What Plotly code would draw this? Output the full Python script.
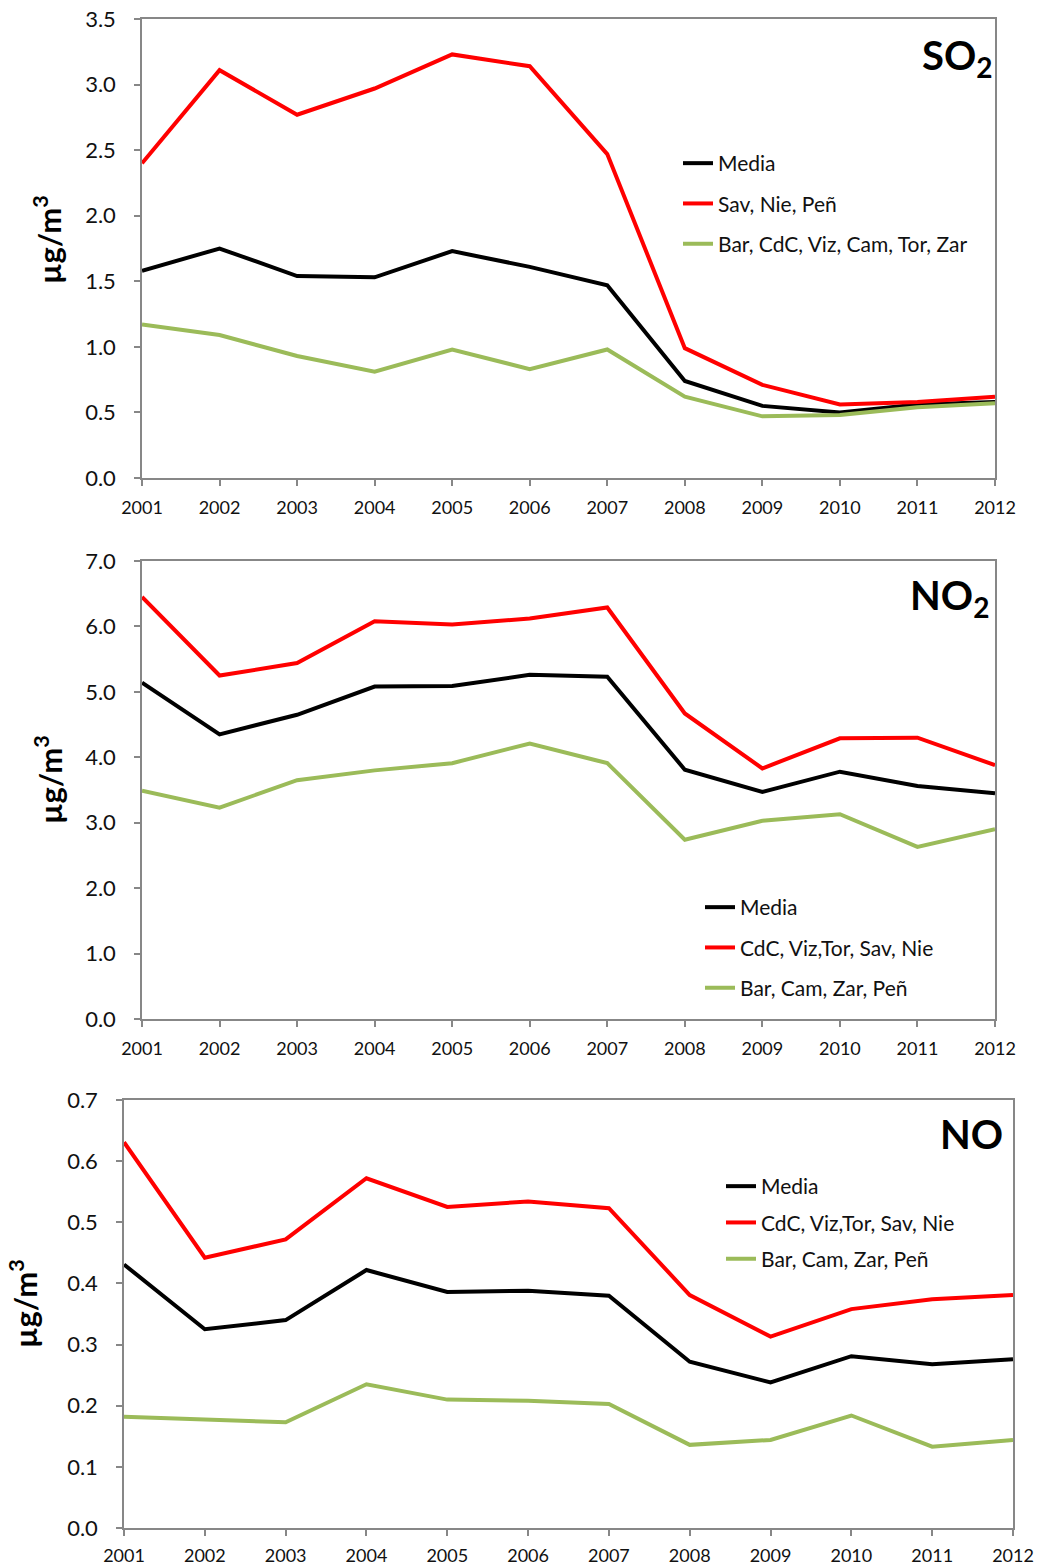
import plotly.graph_objects as go

years = list(range(2001, 2013))

# SO2
so2_media = [1.58, 1.75, 1.54, 1.53, 1.73, 1.61, 1.47, 0.74, 0.55, 0.50, 0.56, 0.58]
so2_high = [2.40, 3.11, 2.77, 2.97, 3.23, 3.14, 2.47, 0.99, 0.71, 0.56, 0.58, 0.62]
so2_low = [1.17, 1.09, 0.93, 0.81, 0.98, 0.83, 0.98, 0.62, 0.47, 0.48, 0.54, 0.57]
so2_names = ["Media", "Sav, Nie, Peñ", "Bar, CdC, Viz, Cam, Tor, Zar"]

# NO2
no2_media = [5.14, 4.35, 4.65, 5.08, 5.09, 5.26, 5.23, 3.81, 3.47, 3.78, 3.56, 3.45]
no2_high = [6.45, 5.25, 5.44, 6.08, 6.03, 6.12, 6.29, 4.67, 3.83, 4.29, 4.30, 3.88]
no2_low = [3.49, 3.23, 3.65, 3.80, 3.91, 4.21, 3.91, 2.74, 3.03, 3.13, 2.63, 2.90]
no2_names = ["Media", "CdC, Viz,Tor, Sav, Nie", "Bar, Cam, Zar, Peñ"]

# NO
no_media = [0.431, 0.325, 0.340, 0.422, 0.386, 0.388, 0.380, 0.272, 0.238, 0.281, 0.268, 0.276]
no_high = [0.631, 0.442, 0.472, 0.572, 0.525, 0.534, 0.523, 0.381, 0.313, 0.358, 0.374, 0.381]
no_low = [0.182, 0.177, 0.173, 0.235, 0.210, 0.208, 0.203, 0.136, 0.144, 0.184, 0.133, 0.144]
no_names = ["Media", "CdC, Viz,Tor, Sav, Nie", "Bar, Cam, Zar, Peñ"]

W, H = 1038, 1566
FONT = "Lato, 'Open Sans', sans-serif"
AXIS_GREY = "#878787"
COLORS = ["#000000", "#ff0000", "#9bbb59"]


def fx(p):
    # window pixel -> paper x
    return p / W


def fy(p):
    # window pixel -> paper y
    return 1 - p / H


panels = [
    dict(series=[so2_media, so2_high, so2_low], names=so2_names,
         box=(142, 995, 19, 478), ymax=3.5, dtick=0.5,
         title="SO<sub>2</sub>", title_xy=(995, 29),
         legend_xy=(678, 143), legend_gap=10, ylab=(48, 240), xstandoff=7),
    dict(series=[no2_media, no2_high, no2_low], names=no2_names,
         box=(142, 995, 561, 1019), ymax=7.0, dtick=1.0,
         title="NO<sub>2</sub>", title_xy=(991, 569),
         legend_xy=(700, 887), legend_gap=10, ylab=(48, 780), xstandoff=7),
    dict(series=[no_media, no_high, no_low], names=no_names,
         box=(124, 1013, 1100, 1528), ymax=0.7, dtick=0.1,
         title="NO", title_xy=(1005, 1108),
         legend_xy=(721, 1166), legend_gap=6, ylab=(23, 1304), xstandoff=5),
]

fig = go.Figure()
annotations = []

for i, p in enumerate(panels, start=1):
    sfx = "" if i == 1 else str(i)
    leg = "legend" if i == 1 else f"legend{i}"
    for vals, name, col in zip(p["series"], p["names"], COLORS):
        fig.add_trace(go.Scatter(
            x=years, y=vals, name=name, mode="lines",
            line=dict(color=col, width=4),
            xaxis="x" + sfx, yaxis="y" + sfx,
            legend=leg, legendgroup=f"{i}-{name}",
        ))

    x0, x1, y0, y1 = p["box"]
    axis_common = dict(
        showline=True, linecolor=AXIS_GREY, linewidth=1.5, mirror=True,
        ticks="outside", ticklen=6, tickcolor=AXIS_GREY, tickwidth=1.5,
        showgrid=False, zeroline=False, automargin=False,
        ticklabeloverflow="allow",
    )
    fig.update_layout(**{
        "xaxis" + sfx: dict(
            domain=[fx(x0), fx(x1)], anchor="y" + sfx,
            range=[2001, 2012], tickmode="linear", tick0=2001, dtick=1,
            tickfont=dict(family=FONT, size=18, color="#111111"),
            ticklabelstandoff=p["xstandoff"],
            **axis_common,
        ),
        "yaxis" + sfx: dict(
            domain=[fy(y1), fy(y0)], anchor="x" + sfx,
            range=[0, p["ymax"]], tickmode="linear", tick0=0, dtick=p["dtick"],
            tickformat=".1f",
            tickfont=dict(family=FONT, size=22, color="#111111"),
            ticklabelstandoff=14,
            **axis_common,
        ),
        leg: dict(
            x=fx(p["legend_xy"][0]), y=fy(p["legend_xy"][1]),
            xanchor="left", yanchor="top",
            bgcolor="rgba(0,0,0,0)", borderwidth=0,
            font=dict(family=FONT, size=21, color="#111111"),
            tracegroupgap=p["legend_gap"], itemwidth=30,
        ),
    })

    annotations.append(dict(
        text=f"<b>{p['title']}</b>", xref="paper", yref="paper",
        x=fx(p["title_xy"][0]), y=fy(p["title_xy"][1]),
        xanchor="right", yanchor="top", showarrow=False,
        font=dict(family=FONT, size=40, color="#000000"),
    ))
    annotations.append(dict(
        text="<b>µg/m<sup>3</sup></b>", xref="paper", yref="paper",
        x=fx(p["ylab"][0]), y=fy(p["ylab"][1]),
        xanchor="center", yanchor="middle", textangle=-90, showarrow=False,
        font=dict(family=FONT, size=31, color="#000000"),
    ))

fig.update_layout(
    width=W, height=H,
    margin=dict(l=0, r=0, t=0, b=0, autoexpand=False),
    paper_bgcolor="white", plot_bgcolor="white",
    showlegend=True,
    annotations=annotations,
)

# drop the default 8px body margin so the figure fills the window exactly
fig.write_html(
    "out.html",
    config={"displayModeBar": False},
    post_script="document.body.style.margin='0px';document.body.style.overflow='hidden';",
)
